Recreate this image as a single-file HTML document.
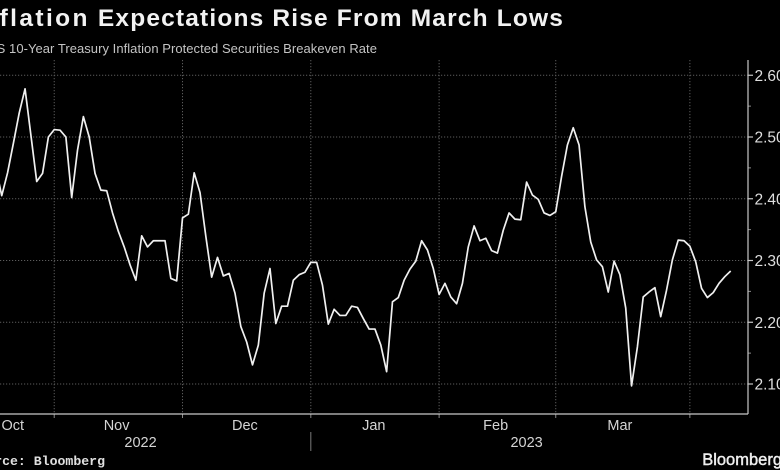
<!DOCTYPE html>
<html lang="en">
<head>
<meta charset="utf-8">
<title>Inflation Expectations Rise From March Lows</title>
<style>
html,body{margin:0;padding:0;background:#000;width:780px;height:470px;overflow:hidden}
svg{display:block;font-family:"Liberation Sans",sans-serif}
</style>
</head>
<body>
<svg id="chart" width="780" height="470" viewBox="0 0 780 470" xmlns="http://www.w3.org/2000/svg">
<rect width="780" height="470" fill="#000"/>
<text x="564" y="26" text-anchor="end" font-size="24.5" font-weight="700" letter-spacing="1.17" fill="#f2f2f2"><tspan letter-spacing="2.4">Inflation</tspan> Expectations Rise From March Lows</text>
<text x="377" y="53" text-anchor="end" font-size="13" letter-spacing="0.045" fill="#c4c4c4">US 10-Year Treasury Inflation Protected Securities Breakeven Rate</text>
<g id="grid"></g>
<g id="axes"></g>
<path id="line" fill="none" stroke="#f0f0f0" stroke-width="1.7" stroke-linejoin="round"></path>
<text x="105" y="465" text-anchor="end" font-family="'Liberation Mono',monospace" font-size="13.2" font-weight="700" fill="#e0e0e0">Source: Bloomberg</text>
<text x="782" y="465" text-anchor="end" font-size="16.5" stroke="#efefef" stroke-width="0.45" fill="#efefef">Bloomberg</text>
</svg>
<script>
const series = [2.450,2.405,2.442,2.490,2.539,2.578,2.503,2.428,2.441,2.500,2.512,2.511,2.500,2.402,2.479,2.533,2.500,2.441,2.414,2.413,2.377,2.347,2.322,2.293,2.268,2.340,2.322,2.332,2.332,2.332,2.271,2.267,2.369,2.375,2.442,2.410,2.339,2.273,2.305,2.275,2.279,2.247,2.193,2.168,2.131,2.163,2.247,2.287,2.198,2.226,2.226,2.268,2.277,2.281,2.297,2.297,2.260,2.197,2.221,2.211,2.211,2.226,2.224,2.206,2.189,2.189,2.163,2.120,2.233,2.240,2.268,2.286,2.299,2.332,2.317,2.287,2.245,2.263,2.241,2.230,2.263,2.322,2.356,2.332,2.336,2.316,2.312,2.349,2.377,2.367,2.366,2.427,2.406,2.399,2.377,2.373,2.379,2.436,2.487,2.515,2.487,2.387,2.330,2.301,2.290,2.249,2.299,2.277,2.223,2.097,2.160,2.241,2.249,2.256,2.209,2.252,2.301,2.333,2.332,2.323,2.298,2.255,2.240,2.248,2.263,2.274,2.283];
const yTicks = [2.1,2.2,2.3,2.4,2.5,2.6];
const yMinorTicks = [2.15,2.25,2.35,2.45,2.55];
const monthStarts = [10,32,54,76,96,119];
const monthNames = ["Oct","Nov","Dec","Jan","Feb","Mar"];
const monthCenters = [2.9,20.7,42.7,64.8,85.7,107];
const yearNames = ["2022","2023"];
const yearCenters = [24.8,91];
const yearDivider = [54];

const NS = "http://www.w3.org/2000/svg";
const plotRight = 748, plotBottom = 414, plotTop = 60;
const firstX = -4.1, lastX = 730.7;
function xScale(i){ return firstX + i * (lastX - firstX) / (series.length - 1); }
function yScale(v){ return 384 - (v - 2.1) * 617.5; }
function make(parent, tag, attrs){
  const el = document.createElementNS(NS, tag);
  for (const k in attrs) el.setAttribute(k, attrs[k]);
  parent.appendChild(el);
  return el;
}
const grid = document.getElementById("grid");
const axes = document.getElementById("axes");
yTicks.forEach(function(t){
  const y = yScale(t);
  const g = make(grid, "line", {x1:0, x2:plotRight, y1:y, y2:y, stroke:"#5c5c5c", "stroke-width":1, "stroke-dasharray":"1.2 1.8"});
  
  
  const tk = make(axes, "line", {x1:plotRight, x2:plotRight+5, y1:y, y2:y, stroke:"#c8c8c8", "stroke-width":1.2});
  
  
  const lb = make(axes, "text", {x:754.5, y:y+5.5, "font-size":15.5, fill:"#dedede"});
  
  
  lb.textContent = t.toFixed(2);
});
yMinorTicks.forEach(function(t){
  const y = yScale(t);
  const tk = make(axes, "line", {x1:plotRight, x2:plotRight+3, y1:y, y2:y, stroke:"#8a8a8a", "stroke-width":1});
  
  
});
monthStarts.forEach(function(m){
  const x = xScale(m);
  const g = make(grid, "line", {x1:x, x2:x, y1:plotTop, y2:plotBottom, stroke:"#5c5c5c", "stroke-width":1, "stroke-dasharray":"1.2 1.8"});
  
  
  const tk = make(axes, "line", {x1:x, x2:x, y1:plotBottom, y2:plotBottom+4, stroke:"#8a8a8a", "stroke-width":1});
  
  
});
const yAxis = make(axes, "line", {x1:plotRight, x2:plotRight, y1:plotTop, y2:plotBottom, stroke:"#c8c8c8", "stroke-width":1.2});


const xAxis = make(axes, "line", {x1:0, x2:plotRight, y1:plotBottom, y2:plotBottom, stroke:"#c8c8c8", "stroke-width":1.2});


monthNames.forEach(function(n, i){
  const lb = make(axes, "text", {x:xScale(monthCenters[i]), y:430, "text-anchor":"middle", "font-size":14.5, fill:"#d4d4d4"});
  
  
  lb.textContent = n;
});
yearNames.forEach(function(n, i){
  const lb = make(axes, "text", {x:xScale(yearCenters[i]), y:447, "text-anchor":"middle", "font-size":14.5, fill:"#d4d4d4"});
  
  
  lb.textContent = n;
});
yearDivider.forEach(function(m){
  const x = xScale(m);
  const d = make(axes, "line", {x1:x, x2:x, y1:432, y2:451, stroke:"#7a7a7a", "stroke-width":1});
  
  
});
document.getElementById("line").setAttribute("d", series.map(function(v, i){
  return (i ? "L" : "M") + xScale(i).toFixed(2) + " " + yScale(v).toFixed(2);
}).join(""));
</script>
</body>
</html>
